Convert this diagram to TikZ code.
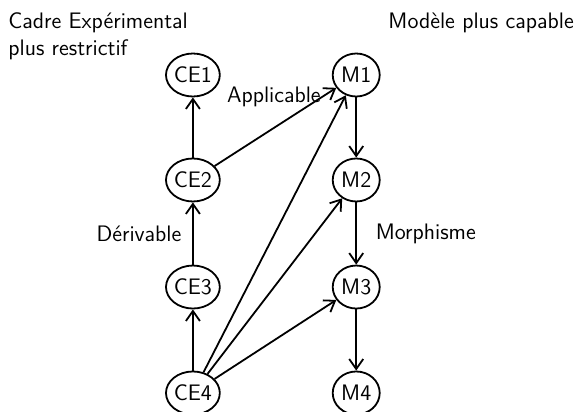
\documentclass[tikz,border=0pt]{standalone}
\usepackage{tikz}
\usetikzlibrary{shapes.geometric, arrows.meta, positioning}

\begin{document}
\begin{tikzpicture}[
  font=\sffamily\fontsize{11.2}{13.5}\selectfont,
  cadre/.style={ellipse, draw, line width=0.9pt, inner sep=0pt, minimum width=23.5pt, minimum height=21.5pt},
  modele/.style={ellipse, draw, line width=0.9pt, inner sep=0pt, minimum width=23.5pt, minimum height=21.5pt},
  arrow/.style={-{Straight Barb[length=5pt, width=7pt]}, line width=0.9pt},
]
\useasboundingbox (0,0) rectangle (10.175,-7.240);

% Titles
\node[anchor=north west, align=left, inner sep=0pt] (tcadre) at (0.14,-0.22) {Cadre Expérimental\\plus restrictif};
\node[anchor=north east, inner sep=0pt] (tmodele) at (10.09,-0.22) {Modèle plus capable};

% Nodes
\node[cadre] (ce1) at (3.39,-1.318) {CE1};
\node[cadre] (ce2) at (3.39,-3.163) {CE2};
\node[cadre] (ce3) at (3.39,-5.044) {CE3};
\node[cadre] (ce4) at (3.39,-6.906) {CE4};
\node[modele] (m1) at (6.26,-1.318) {M1};
\node[modele] (m2) at (6.26,-3.163) {M2};
\node[modele] (m3) at (6.26,-5.044) {M3};
\node[modele] (m4) at (6.26,-6.906) {M4};

% Arrows
\draw[arrow] (ce4) -- (ce3);
\draw[arrow] (ce3) -- node[left, xshift=-2pt] {Dérivable} (ce2);
\draw[arrow] (ce2) -- (ce1);
\draw[arrow] (m1) -- (m2);
\draw[arrow] (m2) -- node[right, xshift=6pt] {Morphisme} (m3);
\draw[arrow] (m3) -- (m4);
\draw[arrow] (ce2) -- node[pos=0.88, anchor=east, inner sep=0pt] {Applicable} (m1);
\draw[arrow] (ce4) -- (m1);
\draw[arrow] (ce4) -- (m2);
\draw[arrow] (ce4) -- (m3);

\end{tikzpicture}
\end{document}
